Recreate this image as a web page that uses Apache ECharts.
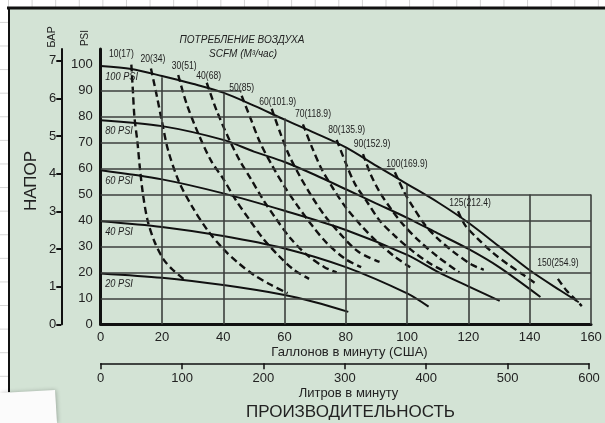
<!DOCTYPE html>
<html>
<head>
<meta charset="utf-8">
<script src="https://cdn.jsdelivr.net/npm/echarts@6/dist/echarts.min.js"></script>
<style>
  html, body {
    margin: 0;
    padding: 0;
  }
  body {
    width: 605px;
    height: 423px;
    background-color: #fff;
    background-image: linear-gradient(#d4d4d4 1px, transparent 1px),
      linear-gradient(90deg, #d4d4d4 1px, transparent 1px);
    background-size: 23.6px 23.6px;
    background-position: 8px -1.7px;
  }
  #pumpChart {
    width: 605px;
    height: 423px;
  }
</style>
</head>
<body>
<div id="pumpChart"></div>
<script>
// оси
const gpmTicks = [0, 20, 40, 60, 80, 100, 120, 140, 160];
const psiTicks = [0, 10, 20, 30, 40, 50, 60, 70, 80, 90, 100];
const barTicks = [0, 1, 2, 3, 4, 5, 6, 7];
const literTicks = [0, 100, 200, 300, 400, 500, 600];

// кривые производительности (галлоны/мин, PSI) при давлении воздуха
const airPressures = ['100 PSI', '80 PSI', '60 PSI', '40 PSI', '20 PSI'];
const curve100 = [[0, 99.5], [10, 98.3], [20, 95.6], [30, 92.6], [40, 89.2], [50, 84.2], [60, 78.8], [70, 73.6], [80, 68.1], [90, 61], [100, 54], [110, 47], [120, 39.1], [130, 30], [140, 20.8], [150, 13], [156, 8.5]];
const curve80 = [[0, 78.6], [20, 76.3], [40, 71], [50, 66.5], [60, 62.5], [70, 57.5], [80, 52], [90, 46.5], [100, 41], [110, 35], [120, 29], [130, 22], [143.5, 10.5]];
const curve60 = [[0, 59.3], [20, 55.8], [40, 50.4], [60, 43.7], [80, 36.3], [100, 26.7], [110, 20.2], [120, 14.6], [130.2, 9]];
const curve40 = [[0, 39.7], [20, 37.5], [40, 34], [60, 29.2], [80, 22], [100, 11.9], [107, 6.8]];
const curve20 = [[0, 19.6], [20, 17.9], [40, 15.1], [60, 11.3], [70, 8.5], [80.8, 4.8]];

// расход воздуха SCFM (м3/час)
const scfmNames = ['10(17)', '20(34)', '30(51)', '40(68)', '50(85)', '60(101.9)', '70(118.9)', '80(135.9)', '90(152.9)', '100(169.9)', '125(212.4)', '150(254.9)'];
const scfm10 = [[10, 100], [10.5, 90], [11, 80], [12, 70], [12.8, 60], [13.8, 50], [15.3, 40], [17.5, 32], [20.5, 25], [23.5, 21], [27, 17.5]];
const scfm20 = [[16.4, 98.5], [18.3, 88], [20, 78], [22, 67], [25.5, 55], [30, 45], [35, 36], [40, 29], [45, 23.5], [50, 19], [55, 15.5], [61, 12]];
const scfm30 = [[25.3, 96], [28, 85], [32, 73], [36, 63], [40, 56], [44, 48], [48.7, 40], [53, 33], [58, 26.5], [63, 21], [68, 17.5]];
const scfm40 = [[34.6, 93], [37.8, 82.4], [42, 71], [45.4, 63], [49, 56], [53, 48], [57, 41], [62, 33], [67, 27], [73, 22], [77, 20]];
const scfm50 = [[46, 88], [49, 79], [52, 70], [56, 61], [60, 53], [64, 46], [69, 38], [74, 31], [80, 25], [85, 22]];
const scfm60 = [[55.8, 83], [58.5, 74], [61.5, 65], [65, 57], [69, 49], [73, 42], [78, 35], [84, 28], [91, 24]];
const scfm70 = [[66, 77], [69, 68], [72, 60], [76, 52], [80, 45], [85, 38], [90, 32], [96, 26], [101, 22]];
const scfm80 = [[77, 71], [80, 62], [83, 54], [87, 47], [91, 40], [96, 34], [102, 28], [108, 23], [113, 20]];
const scfm90 = [[85.6, 65.5], [88, 58], [91, 51], [95, 44], [99, 38], [104, 32], [110, 26], [117, 20]];
const scfm100 = [[96, 58.5], [99, 51], [102, 45], [106, 38], [110, 33], [115, 28], [121, 23], [125, 21]];
const scfm125 = [[116.6, 43.5], [119, 38], [123, 33], [128, 27.5], [133, 23], [138, 19], [142.2, 15.5]];
const scfm150 = [[149.2, 17.5], [152, 13], [155, 9.5], [157, 7]];

// сетка: верх вертикальных линий и конец горизонтальных
const vGridTop = [[20, 95.1], [40, 89], [60, 79.3], [80, 67.8], [100, 53.6], [120, 50], [140, 50], [160, 50]];
const hGridEnd = [[10, 160], [20, 160], [30, 160], [40, 160], [50, 160], [60, 96], [70, 77], [80, 58], [90, 46]];

const solidCurves = [curve100, curve80, curve60, curve40, curve20];
const dashedCurves = [scfm10, scfm20, scfm30, scfm40, scfm50, scfm60, scfm70, scfm80, scfm90, scfm100, scfm125, scfm150];
// сдвиг подписей SCFM от начала кривой, px
const scfmLabelShift = [[-10, -11], [2, -10], [6, -9], [2, -7], [0, -8], [6, -7], [10, -10], [10, -10], [9, -10], [12, -8], [12, -8], [0, -16]];

const FONT = '"Liberation Sans", Arial, sans-serif';
const PSI_MAX = 106;
const PSI_PER_BAR = 14.5038;

const chartDom = document.getElementById('pumpChart');
const myChart = echarts.init(chartDom, null, { renderer: 'canvas' });

const gridLines = [];
vGridTop.forEach(([x, top]) => {
  gridLines.push([{ coord: [x, 0] }, { coord: [x, top] }]);
});
hGridEnd.forEach(([y, end]) => {
  gridLines.push([{ coord: [0, y] }, { coord: [end, y] }]);
});

const series = [];
series.push({
  type: 'line',
  data: [],
  silent: true,
  markLine: {
    silent: true,
    symbol: 'none',
    label: { show: false },
    lineStyle: { color: '#3c3f3c', width: 1.6, type: 'solid' },
    data: gridLines,
  },
  z: 1,
});
solidCurves.forEach((d, i) => {
  series.push({
    name: airPressures[i],
    type: 'line',
    data: d,
    symbol: 'none',
    smooth: 0.3,
    lineStyle: { color: '#111', width: 2 },
    z: 3,
  });
});
dashedCurves.forEach((d, i) => {
  series.push({
    name: scfmNames[i],
    type: 'line',
    data: d,
    symbol: 'none',
    smooth: 0.3,
    lineStyle: { color: '#111', width: 2.4, type: [7, 4] },
    z: 4,
  });
});

const baseGraphic = [
  {
    type: 'rect',
    z: -100,
    shape: { x: 9, y: 8, width: 596, height: 415 },
    style: { fill: '#d3e3d5' },
  },
  {
    type: 'line',
    z: -90,
    shape: { x1: 7, y1: 8, x2: 605, y2: 8 },
    style: { stroke: '#111', lineWidth: 3 },
  },
  {
    type: 'line',
    z: -90,
    shape: { x1: 9, y1: 8, x2: 9, y2: 392 },
    style: { stroke: '#111', lineWidth: 2 },
  },
  {
    type: 'polygon',
    z: -80,
    shape: { points: [[0, 393], [55, 390], [57, 423], [0, 423]] },
    style: { fill: '#fbfbfb', shadowBlur: 4, shadowColor: 'rgba(0,0,0,0.25)', shadowOffsetX: 1 },
  },
  {
    type: 'text',
    style: { text: 'ПОТРЕБЛЕНИЕ ВОЗДУХА', x: 242, y: 40, align: 'center', verticalAlign: 'middle', fontSize: 10, fontStyle: 'italic', fontFamily: FONT, fill: '#222' },
  },
  {
    type: 'text',
    style: { text: 'SCFM (M³/час)', x: 243, y: 54, align: 'center', verticalAlign: 'middle', fontSize: 10, fontStyle: 'italic', fontFamily: FONT, fill: '#222' },
  },
  {
    type: 'text',
    rotation: Math.PI / 2,
    x: 52,
    y: 37,
    style: { text: 'БАР', align: 'center', verticalAlign: 'middle', fontSize: 11, fontFamily: FONT, fill: '#222' },
  },
  {
    type: 'text',
    rotation: Math.PI / 2,
    x: 85.5,
    y: 38,
    style: { text: 'PSI', align: 'center', verticalAlign: 'middle', fontSize: 10, fontFamily: FONT, fill: '#222' },
  },
  {
    type: 'text',
    rotation: Math.PI / 2,
    x: 31,
    y: 181,
    style: { text: 'НАПОР', align: 'center', verticalAlign: 'middle', fontSize: 17, fontFamily: FONT, fill: '#222' },
  },
  {
    type: 'text',
    style: { text: 'Галлонов в минуту (США)', x: 349.5, y: 352, align: 'center', verticalAlign: 'middle', fontSize: 13, fontFamily: FONT, fill: '#222' },
  },
  {
    type: 'text',
    style: { text: 'Литров в минуту', x: 348.5, y: 393.5, align: 'center', verticalAlign: 'middle', fontSize: 13, fontFamily: FONT, fill: '#222' },
  },
  {
    type: 'text',
    style: { text: 'ПРОИЗВОДИТЕЛЬНОСТЬ', x: 350.5, y: 412, align: 'center', verticalAlign: 'middle', fontSize: 17, fontFamily: FONT, fill: '#222' },
  },
];

const option = {
  backgroundColor: 'transparent',
  animation: false,
  textStyle: { fontFamily: FONT },
  grid: [
    { left: 100.7, right: 14, top: 49, bottom: 98.7 },
    { left: 100.7, right: 16, top: 350, height: 13.3 },
  ],
  xAxis: [
    {
      type: 'value',
      gridIndex: 0,
      min: 0,
      max: 160,
      interval: 20,
      axisLine: { show: true, lineStyle: { color: '#111', width: 3 } },
      axisTick: { show: false },
      splitLine: { show: false },
      axisLabel: { margin: 7, fontSize: 13, color: '#222', fontFamily: FONT },
    },
    {
      type: 'value',
      gridIndex: 1,
      position: 'bottom',
      min: 0,
      max: 600,
      interval: 100,
      axisLine: { show: true, lineStyle: { color: '#111', width: 1.5 } },
      axisTick: { show: true, length: 6, lineStyle: { color: '#111', width: 1.5 } },
      splitLine: { show: false },
      axisLabel: { margin: 9, fontSize: 13, color: '#222', fontFamily: FONT },
    },
  ],
  yAxis: [
    {
      type: 'value',
      gridIndex: 0,
      min: 0,
      max: PSI_MAX,
      axisLine: { show: true, lineStyle: { color: '#111', width: 3 } },
      axisTick: { show: false },
      splitLine: { show: false },
      axisLabel: { customValues: psiTicks, margin: 8, fontSize: 13, color: '#222', fontFamily: FONT },
    },
    {
      type: 'value',
      gridIndex: 0,
      position: 'left',
      offset: 39.4,
      min: 0,
      max: PSI_MAX / PSI_PER_BAR,
      axisLine: { show: true, lineStyle: { color: '#111', width: 2 } },
      axisTick: { show: true, customValues: barTicks, length: 5, lineStyle: { color: '#111', width: 2 } },
      splitLine: { show: false },
      axisLabel: { customValues: barTicks, margin: 5, fontSize: 13, color: '#222', fontFamily: FONT },
    },
    {
      type: 'value',
      gridIndex: 1,
      show: false,
      min: 0,
      max: 1,
    },
  ],
  graphic: baseGraphic,
  series: series,
};

myChart.setOption(option);

// узкие подписи у начала кривых (позиция берётся из осей графика)
const labelGraphic = [];
solidCurves.forEach((d, i) => {
  const p = myChart.convertToPixel({ gridIndex: 0 }, d[0]);
  labelGraphic.push({
    type: 'text',
    x: p[0] + 4.5,
    y: p[1] + 11,
    scaleX: 0.84,
    z: 10,
    style: { text: airPressures[i], align: 'left', verticalAlign: 'middle', fontSize: 11, fontStyle: 'italic', fontFamily: FONT, fill: '#222' },
  });
});
dashedCurves.forEach((d, i) => {
  const p = myChart.convertToPixel({ gridIndex: 0 }, d[0]);
  labelGraphic.push({
    type: 'text',
    x: p[0] + scfmLabelShift[i][0],
    y: p[1] + scfmLabelShift[i][1],
    scaleX: 0.78,
    z: 10,
    style: { text: scfmNames[i], align: 'center', verticalAlign: 'middle', fontSize: 11, fontFamily: FONT, fill: '#222' },
  });
});
myChart.setOption({ graphic: baseGraphic.concat(labelGraphic) });
</script>
</body>
</html>
